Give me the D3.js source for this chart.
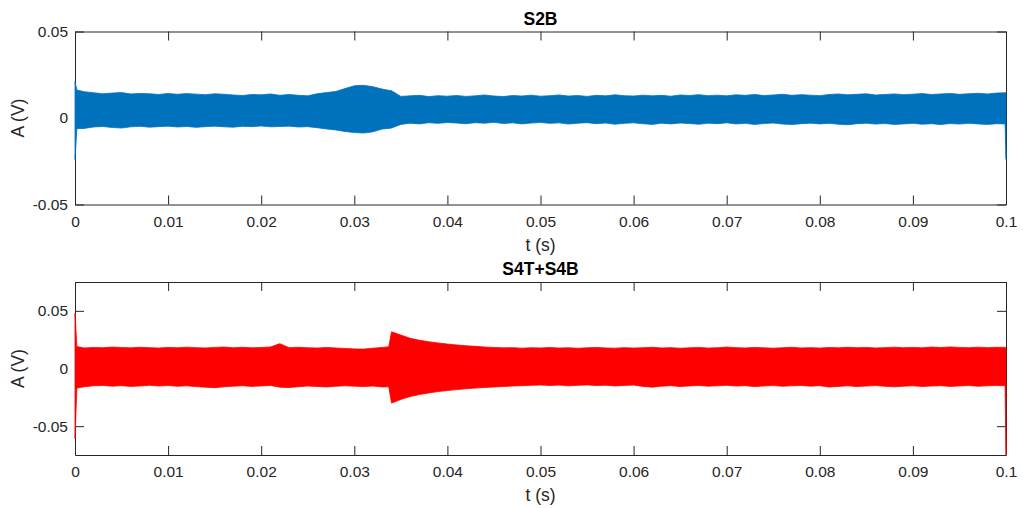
<!DOCTYPE html>
<html>
<head>
<meta charset="utf-8">
<script src="https://cdn.jsdelivr.net/npm/d3@7"></script>
<style>
  body { margin: 0; background: #fff; }
  svg { display: block; }
  text { font-family: "Liberation Sans", Arial, Helvetica, sans-serif; }
</style>
</head>
<body>
<svg id="chart" width="1023" height="508"></svg>
<script>
const sampleTimes = [0, 0.0002,
  0.001, 0.002, 0.003, 0.004, 0.005, 0.006, 0.007, 0.008, 0.009, 0.010,
  0.011, 0.012, 0.013, 0.014, 0.015, 0.016, 0.017, 0.018, 0.019, 0.020,
  0.021, 0.022, 0.023, 0.024, 0.025, 0.026, 0.027, 0.028, 0.029, 0.030,
  0.031, 0.032, 0.033, 0.0337, 0.034, 0.035, 0.036, 0.037, 0.038, 0.039, 0.040,
  0.041, 0.042, 0.043, 0.044, 0.045, 0.046, 0.047, 0.048, 0.049, 0.050,
  0.051, 0.052, 0.053, 0.054, 0.055, 0.056, 0.057, 0.058, 0.059, 0.060,
  0.061, 0.062, 0.063, 0.064, 0.065, 0.066, 0.067, 0.068, 0.069, 0.070,
  0.071, 0.072, 0.073, 0.074, 0.075, 0.076, 0.077, 0.078, 0.079, 0.080,
  0.081, 0.082, 0.083, 0.084, 0.085, 0.086, 0.087, 0.088, 0.089, 0.090,
  0.091, 0.092, 0.093, 0.094, 0.095, 0.096, 0.097, 0.098, 0.099,
  0.0999, 0.1];

// S2B envelope (V)
const s2bUpper = [0.0210, 0.0162,
  0.0152, 0.0146, 0.0140, 0.0144, 0.0147, 0.0139, 0.0142, 0.0140, 0.0136, 0.0142,
  0.0137, 0.0141, 0.0138, 0.0135, 0.0140, 0.0137, 0.0133, 0.0130, 0.0136, 0.0134,
  0.0139, 0.0131, 0.0136, 0.0131, 0.0128, 0.0140, 0.0147, 0.0153, 0.0170, 0.0186,
  0.0189, 0.0181, 0.0167, 0.0160, 0.0158, 0.0125, 0.0128, 0.0131, 0.0124, 0.0129, 0.0126,
  0.0130, 0.0125, 0.0128, 0.0133, 0.0127, 0.0124, 0.0130, 0.0127, 0.0132, 0.0126,
  0.0129, 0.0133, 0.0127, 0.0130, 0.0125, 0.0131, 0.0128, 0.0134, 0.0129, 0.0127,
  0.0132, 0.0128, 0.0131, 0.0126, 0.0133, 0.0130, 0.0135, 0.0129, 0.0132, 0.0128,
  0.0134, 0.0131, 0.0136, 0.0130, 0.0133, 0.0137, 0.0131, 0.0135, 0.0132, 0.0129,
  0.0136, 0.0139, 0.0134, 0.0137, 0.0140, 0.0133, 0.0136, 0.0139, 0.0135, 0.0138,
  0.0141, 0.0136, 0.0139, 0.0142, 0.0137, 0.0140, 0.0143, 0.0139, 0.0144,
  0.0146, 0.0146];
const s2bLower = [-0.0240, -0.0062,
  -0.0060, -0.0052, -0.0049, -0.0055, -0.0058, -0.0051, -0.0048, -0.0053, -0.0050, -0.0047,
  -0.0052, -0.0049, -0.0054, -0.0050, -0.0047, -0.0051, -0.0053, -0.0048, -0.0050, -0.0046,
  -0.0051, -0.0049, -0.0047, -0.0052, -0.0050, -0.0056, -0.0063, -0.0069, -0.0078, -0.0084,
  -0.0087, -0.0080, -0.0064, -0.0060, -0.0058, -0.0037, -0.0030, -0.0034, -0.0027, -0.0031, -0.0026,
  -0.0029, -0.0033, -0.0027, -0.0030, -0.0025, -0.0032, -0.0028, -0.0034, -0.0029, -0.0026,
  -0.0031, -0.0028, -0.0035, -0.0030, -0.0027, -0.0033, -0.0029, -0.0036, -0.0031, -0.0028,
  -0.0033, -0.0037, -0.0030, -0.0034, -0.0029, -0.0032, -0.0036, -0.0030, -0.0033, -0.0028,
  -0.0034, -0.0031, -0.0037, -0.0032, -0.0029, -0.0035, -0.0038, -0.0033, -0.0030, -0.0034,
  -0.0031, -0.0036, -0.0039, -0.0033, -0.0030, -0.0035, -0.0032, -0.0037, -0.0034, -0.0031,
  -0.0036, -0.0033, -0.0038, -0.0032, -0.0035, -0.0031, -0.0034, -0.0037, -0.0033,
  -0.0034, -0.0240];

// S4T+S4B envelope (V)
const s4Upper = [0.0480, 0.0190,
  0.0178, 0.0183, 0.0180, 0.0186, 0.0182, 0.0179, 0.0184, 0.0181, 0.0177, 0.0183,
  0.0180, 0.0185, 0.0181, 0.0178, 0.0183, 0.0186, 0.0180, 0.0184, 0.0179, 0.0182,
  0.0187, 0.0215, 0.0181, 0.0184, 0.0180, 0.0177, 0.0182, 0.0178, 0.0174, 0.0170,
  0.0168, 0.0176, 0.0183, 0.0188, 0.0318, 0.0290, 0.0262, 0.0245, 0.0232, 0.0221, 0.0212,
  0.0204, 0.0197, 0.0192, 0.0186, 0.0183, 0.0179, 0.0181, 0.0176, 0.0180, 0.0178,
  0.0182, 0.0177, 0.0180, 0.0175, 0.0179, 0.0183, 0.0178, 0.0176, 0.0181, 0.0177,
  0.0180, 0.0184, 0.0178, 0.0181, 0.0176, 0.0179, 0.0183, 0.0177, 0.0180, 0.0186,
  0.0181, 0.0178, 0.0183, 0.0179, 0.0176, 0.0180, 0.0184, 0.0178, 0.0181, 0.0177,
  0.0182, 0.0179, 0.0184, 0.0180, 0.0183, 0.0178, 0.0181, 0.0185, 0.0180, 0.0183,
  0.0179, 0.0186, 0.0182, 0.0187, 0.0183, 0.0180, 0.0185, 0.0181, 0.0184,
  0.0183, 0.0183];
const s4Lower = [-0.0610, -0.0170,
  -0.0158, -0.0150, -0.0147, -0.0153, -0.0149, -0.0155, -0.0151, -0.0146, -0.0152, -0.0148,
  -0.0154, -0.0150, -0.0157, -0.0162, -0.0166, -0.0159, -0.0153, -0.0149, -0.0155, -0.0151,
  -0.0147, -0.0162, -0.0165, -0.0158, -0.0152, -0.0156, -0.0160, -0.0154, -0.0150, -0.0153,
  -0.0157, -0.0152, -0.0160, -0.0158, -0.0300, -0.0268, -0.0243, -0.0226, -0.0212, -0.0200, -0.0191,
  -0.0183, -0.0176, -0.0170, -0.0165, -0.0160, -0.0156, -0.0152, -0.0149, -0.0146, -0.0143,
  -0.0147, -0.0144, -0.0150, -0.0146, -0.0142, -0.0148, -0.0145, -0.0151, -0.0147, -0.0144,
  -0.0155, -0.0162, -0.0153, -0.0149, -0.0156, -0.0151, -0.0147, -0.0153, -0.0150, -0.0146,
  -0.0152, -0.0149, -0.0157, -0.0151, -0.0148, -0.0154, -0.0150, -0.0147, -0.0153, -0.0149,
  -0.0161, -0.0155, -0.0150, -0.0157, -0.0152, -0.0148, -0.0154, -0.0159, -0.0153, -0.0150,
  -0.0156, -0.0152, -0.0149, -0.0155, -0.0151, -0.0148, -0.0154, -0.0150, -0.0147,
  -0.0150, -0.0750];

const xTicks = [0, 0.01, 0.02, 0.03, 0.04, 0.05, 0.06, 0.07, 0.08, 0.09, 0.1];
const xTickLabels = ["0", "0.01", "0.02", "0.03", "0.04", "0.05", "0.06", "0.07", "0.08", "0.09", "0.1"];
const yTicks = [-0.05, 0, 0.05];
const yTickLabels = ["-0.05", "0", "0.05"];

const panels = [
  { title: "S2B", upper: s2bUpper, lower: s2bLower, color: "#0072BD", yMax: 0.05, top: 31.5 },
  { title: "S4T+S4B", upper: s4Upper, lower: s4Lower, color: "#FF0000", yMax: 0.075, top: 282 }
];

const svg = d3.select("#chart");
const plotLeft = 75, plotRight = 1006, plotHeight = 173;
const tickLen = 9;
const axisColor = "#262626";

panels.forEach(function (p) {
  const x = d3.scaleLinear().domain([0, 0.1]).range([plotLeft, plotRight]);
  const y = d3.scaleLinear().domain([-p.yMax, p.yMax]).range([p.top + plotHeight, p.top]);
  const g = svg.append("g");

  // axes first, ticks pointing inward like matlab (data is drawn over them)
  const fmtX = function (d, i) { return xTickLabels[i]; };
  const fmtY = function (d, i) { return yTickLabels[i]; };

  const axes = [
    g.append("g").attr("transform", `translate(0,${p.top + plotHeight})`)
      .call(d3.axisBottom(x).tickValues(xTicks).tickFormat(fmtX).tickSizeInner(-tickLen).tickSizeOuter(0).tickPadding(11)),
    g.append("g").attr("transform", `translate(0,${p.top})`)
      .call(d3.axisTop(x).tickValues(xTicks).tickFormat("").tickSizeInner(-tickLen).tickSizeOuter(0)),
    g.append("g").attr("transform", `translate(${plotLeft},0)`)
      .call(d3.axisLeft(y).tickValues(yTicks).tickFormat(fmtY).tickSizeInner(-tickLen).tickSizeOuter(0).tickPadding(7)),
    g.append("g").attr("transform", `translate(${plotRight},0)`)
      .call(d3.axisRight(y).tickValues(yTicks).tickFormat("").tickSizeInner(-tickLen).tickSizeOuter(0))
  ];
  axes.forEach(function (a) {
    a.select(".domain").attr("stroke", axisColor).attr("stroke-width", 1);
    a.selectAll(".tick line").attr("stroke", axisColor).attr("stroke-width", 1);
    a.selectAll(".tick text").attr("fill", axisColor).style("font-size", "15.5px");
  });

  // signal band
  const area = d3.area()
    .x(function (d, i) { return x(sampleTimes[i]); })
    .y0(function (d, i) { return y(p.lower[i]); })
    .y1(function (d, i) { return y(p.upper[i]); });

  g.append("path")
    .datum(p.upper)
    .attr("fill", p.color)
    .attr("stroke", p.color)
    .attr("stroke-width", 0.8)
    .attr("d", area);

  // title and labels
  g.append("text")
    .attr("x", (plotLeft + plotRight) / 2)
    .attr("y", p.top - 7)
    .attr("text-anchor", "middle")
    .style("font-size", "17.5px")
    .style("font-weight", "bold")
    .attr("fill", "#000")
    .text(p.title);

  g.append("text")
    .attr("x", (plotLeft + plotRight) / 2)
    .attr("y", p.top + plotHeight + 46)
    .attr("text-anchor", "middle")
    .style("font-size", "17.5px")
    .attr("fill", axisColor)
    .text("t (s)");

  g.append("text")
    .attr("transform", `translate(24,${p.top + plotHeight / 2}) rotate(-90)`)
    .attr("text-anchor", "middle")
    .style("font-size", "17.5px")
    .attr("fill", axisColor)
    .text("A (V)");
});
</script>
</body>
</html>
